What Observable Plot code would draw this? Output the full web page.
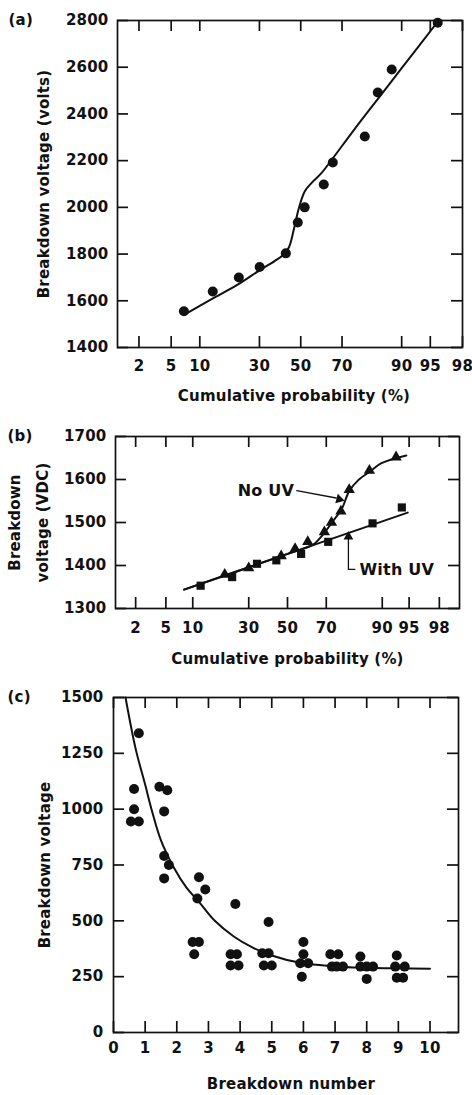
<!DOCTYPE html>
<html><head><meta charset="utf-8">
<script src="https://cdn.jsdelivr.net/npm/d3@7"></script>
<script src="https://cdn.jsdelivr.net/npm/@observablehq/plot@0.6"></script>
<style>
body{margin:0;background:#fff;}
#chart{position:relative;width:472px;height:1095px;}
#chart svg{position:absolute;left:0;overflow:visible;}
</style></head><body><div id="chart"></div>
<script>
// ---------- data ----------
const probTicks = [2,5,10,30,50,70,90,95,98];

// panel (a)
const aProb = [6.9,13.2,21.6,30.1,42.5,48.5,52,61.5,65.8,79.2,83.6,87.6,95.9];
const aVolt = [1555,1640,1700,1745,1803,1935,2000,2098,2192,2303,2492,2590,2790];
const aFitProb = [7,13,21,30,37,41,44,46.5,49,52,55.5,60,65,75,84,90,96];
const aFitVolt = [1541,1608,1668,1730,1770,1795,1828,1905,1995,2068,2105,2143,2200,2331,2471,2596,2800];
const aYTicks = [1400,1600,1800,2000,2200,2400,2600,2800];

// panel (b)
const bNoUvProb = [19.8,30,46.6,54.1,60.8,69.1,72.4,76.5,79.8,86.6,92.9];
const bNoUvVolt = [1379,1394,1422,1439,1455,1478,1500,1526,1576,1621,1652];
const bUvProb = [12,22.7,34,44,57.3,70.9,87.5,93.9];
const bUvVolt = [1353,1373,1404,1412,1427,1455,1498,1535];
const bNoUvFitProb = [8.1,30,50,58.5,63.7,68.6,73.2,76.8,79.8,83,87.2,89.8,94.6];
const bNoUvFitVolt = [1344,1396,1427,1439,1449,1473,1504,1531,1573,1598,1621,1638,1656];
const bUvFitProb = [8.1,94.8];
const bUvFitVolt = [1344,1523];
const bYTicks = [1300,1400,1500,1600,1700];
// annotations
const bNoUvNote = {text: "No UV", prob: 38.5, volt: 1574};
const bUvNote = {text: "With UV", prob: 83.5, volt: 1389};
const bArrowProb1 = [55,79.5], bArrowVolt1 = [1574,1391];
const bArrowProb2 = [74.5,79.5], bArrowVolt2 = [1557,1462];
const bArrowBend = [10,0];
const bHeadProb = [75.8,79.5], bHeadVolt = [1554,1467], bHeadRotate = [105,0];
const bElbowProb = [81.9,79.5], bElbowVolt = [1391,1391];

// panel (c)
const cNum = [0.8,0.65,0.65,0.55,0.8, 1.45,1.7,1.6,1.6,1.75,1.6, 2.7,2.65,2.9,2.5,2.7,2.55,
  3.85,3.7,3.9,3.7,3.95, 4.9,4.7,4.9,4.75,5.0, 6,6,5.9,6.15,5.95, 6.85,7.1,6.9,7.05,7.25,
  7.8,7.8,8.0,8.2,8.0, 8.95,8.9,9.2,8.95,9.15];
const cVolt = [1340,1090,1000,945,945, 1100,1085,990,790,750,690, 695,600,640,405,405,350,
  575,350,350,300,300, 495,355,355,300,300, 405,350,310,310,250, 350,350,295,295,295,
  340,295,295,295,240, 345,295,295,245,245];
const cFitNum = [0.38,0.7,1.0,1.2,1.5,1.9,2.3,2.7,3.2,3.8,4.4,5.0,5.9,7,8,9,10];
const cFitVolt = [1500,1270,1110,1000,860,740,650,585,500,430,380,345,312,296,290,287,285];
const cXTicks = [0,1,2,3,4,5,6,7,8,9,10];
const cYTicks = [0,250,500,750,1000,1250,1500];

// ---------- normal probability transform ----------
function probit(p){
  const a=[-3.969683028665376e+01,2.209460984245205e+02,-2.759285104469687e+02,1.383577518672690e+02,-3.066479806614716e+01,2.506628277459239e+00];
  const b=[-5.447609879822406e+01,1.615858368580409e+02,-1.556989798598866e+02,6.680131188771972e+01,-1.328068155288572e+01];
  const c=[-7.784894002430293e-03,-3.223964580411365e-01,-2.400758277161838e+00,-2.549732539343734e+00,4.374664141464968e+00,2.938163982698783e+00];
  const d=[7.784695709041462e-03,3.224671290700398e-01,2.445134137142996e+00,3.754408661907416e+00];
  const pl=0.02425, ph=1-pl; let q,r;
  if(p<pl){q=Math.sqrt(-2*Math.log(p));return (((((c[0]*q+c[1])*q+c[2])*q+c[3])*q+c[4])*q+c[5])/((((d[0]*q+d[1])*q+d[2])*q+d[3])*q+1);}
  if(p<=ph){q=p-0.5;r=q*q;return (((((a[0]*r+a[1])*r+a[2])*r+a[3])*r+a[4])*r+a[5])*q/(((((b[0]*r+b[1])*r+b[2])*r+b[3])*r+b[4])*r+1);}
  q=Math.sqrt(-2*Math.log(1-p));return -(((((c[0]*q+c[1])*q+c[2])*q+c[3])*q+c[4])*q+c[5])/((((d[0]*q+d[1])*q+d[2])*q+d[3])*q+1);
}
const pz = pct => probit(pct/100);

const FONT = "DejaVu Sans";
const baseStyle = {fontFamily: FONT, fontSize: "15px", fontWeight: "bold", color: "#111", background: "transparent", letterSpacing: "0.2px"};
const TL = 11; // inward tick length (px)
const fmt = d => String(d);
const ink = "#111";

// frame with inward tick marks on all four sides, plus tick labels
function frameAxes(xTicks, yTicks, xPad, yPad, W, H){
  const t = {stroke: ink, strokeWidth: 1.7};
  return [
    Plot.frame({stroke: ink, strokeWidth: 1.7}),
    Plot.ruleX(xTicks, {x: d => d, insetTop: H - TL, ...t}),
    Plot.ruleX(xTicks, {x: d => d, insetBottom: H - TL, ...t}),
    Plot.ruleY(yTicks, {y: d => d, insetRight: W - TL, ...t}),
    Plot.ruleY(yTicks, {y: d => d, insetLeft: W - TL, ...t}),
    Plot.axisX(xTicks, {anchor: "bottom", tickSize: 0, tickPadding: xPad, tickFormat: fmt, label: null}),
    Plot.axisY(yTicks, {anchor: "left", tickSize: 0, tickPadding: yPad, tickFormat: fmt, label: null})
  ];
}
function panelLabel(t, dx){
  return Plot.text([t], {text: d => d, frameAnchor: "top-left", textAnchor: "start", lineAnchor: "middle", dx: dx, fontSize: 15});
}

const chart = document.getElementById("chart");
function place(svg, top){ svg.style.top = top + "px"; chart.appendChild(svg); }

// ---------- panel (a) ----------
const A = Plot.plot({
  width: 472, height: 410, marginTop: 20, marginBottom: 63, marginLeft: 117, marginRight: 10,
  style: baseStyle,
  x: {transform: pz, domain: [pz(1), pz(98)]},
  y: {domain: [1400, 2800]},
  marks: [
    ...frameAxes(probTicks, aYTicks, 13, 9, 345, 327),
    Plot.line(aFitProb, {x: aFitProb, y: aFitVolt, curve: "catmull-rom", stroke: ink, strokeWidth: 2}),
    Plot.dot(aProb, {x: aProb, y: aVolt, r: 5, fill: ink}),
    Plot.text(["Breakdown voltage (volts)"], {text: d => d, frameAnchor: "left", rotate: -90, dx: -73, textAnchor: "middle", lineAnchor: "middle", fontSize: 15}),
    Plot.text(["Cumulative probability (%)"], {text: d => d, frameAnchor: "bottom", dy: 43, dx: 4, lineAnchor: "top", fontSize: 15}),
    panelLabel("(a)", -109)
  ]
});
place(A, 0);

// ---------- panel (b) ----------
const B = Plot.plot({
  width: 472, height: 260, marginTop: 26, marginBottom: 62, marginLeft: 115, marginRight: 13,
  style: baseStyle,
  x: {transform: pz, domain: [pz(1), pz(99)]},
  y: {domain: [1300, 1700]},
  marks: [
    ...frameAxes(probTicks, bYTicks, 14, 9, 344, 172),
    Plot.line(bUvFitProb, {x: bUvFitProb, y: bUvFitVolt, stroke: ink, strokeWidth: 2}),
    Plot.line(bNoUvFitProb, {x: bNoUvFitProb, y: bNoUvFitVolt, curve: "catmull-rom", stroke: ink, strokeWidth: 2}),
    Plot.dot(bNoUvProb, {x: bNoUvProb, y: bNoUvVolt, symbol: "triangle", r: 4.2, fill: ink}),
    Plot.dot(bUvProb, {x: bUvProb, y: bUvVolt, symbol: "square", r: 4.6, fill: ink}),
    Plot.arrow(bArrowProb1, {x1: bArrowProb1, y1: bArrowVolt1, x2: bArrowProb2, y2: bArrowVolt2, bend: bArrowBend, headLength: 0, stroke: ink, strokeWidth: 1.3}),
    Plot.dot(bHeadProb, {x: bHeadProb, y: bHeadVolt, symbol: "triangle", r: 3.6, rotate: bHeadRotate, fill: ink}),
    Plot.line(bElbowProb, {x: bElbowProb, y: bElbowVolt, stroke: ink, strokeWidth: 1.3}),
    Plot.text([bNoUvNote], {x: "prob", y: "volt", text: "text", textAnchor: "middle", fontSize: 16, lineAnchor: "middle"}),
    Plot.text([bUvNote], {x: "prob", y: "volt", text: "text", textAnchor: "start", fontSize: 16, lineAnchor: "middle"}),
    Plot.text(["Breakdown"], {text: d => d, frameAnchor: "left", rotate: -90, dx: -100, textAnchor: "middle", lineAnchor: "middle", fontSize: 15}),
    Plot.text(["voltage (VDC)"], {text: d => d, frameAnchor: "left", rotate: -90, dx: -72, textAnchor: "middle", lineAnchor: "middle", fontSize: 15}),
    Plot.text(["Cumulative probability (%)"], {text: d => d, frameAnchor: "bottom", dy: 45, dx: 0, lineAnchor: "top", fontSize: 15}),
    panelLabel("(b)", -108)
  ]
});
place(B, 410);

// ---------- panel (c) ----------
const C = Plot.plot({
  width: 472, height: 425, marginTop: 27, marginBottom: 63, marginLeft: 113, marginRight: 14,
  style: baseStyle,
  x: {domain: [0, 10.9]},
  y: {domain: [0, 1500]},
  marks: [
    ...frameAxes(cXTicks, cYTicks, 10, 10, 345, 335),
    Plot.line(cFitNum, {x: cFitNum, y: cFitVolt, curve: "catmull-rom", stroke: ink, strokeWidth: 2}),
    Plot.dot(cNum, {x: cNum, y: cVolt, r: 5, fill: ink}),
    Plot.text(["Breakdown voltage"], {text: d => d, frameAnchor: "left", rotate: -90, dx: -68, textAnchor: "middle", lineAnchor: "middle", fontSize: 15}),
    Plot.text(["Breakdown number"], {text: d => d, frameAnchor: "bottom", dy: 46, dx: 5, lineAnchor: "top", fontSize: 15}),
    panelLabel("(c)", -106)
  ]
});
place(C, 670);
</script>
</body></html>
